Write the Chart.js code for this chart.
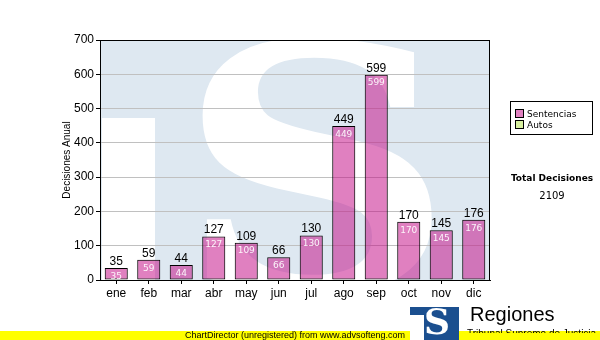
<!DOCTYPE html>
<html>
<head>
<meta charset="utf-8">
<script src="https://cdn.jsdelivr.net/npm/chart.js@4/dist/chart.umd.min.js"></script>
<style>
  html, body { margin: 0; padding: 0; background: #fff; }
  #wrap { position: relative; width: 600px; height: 340px; overflow: hidden; }
  #chart { position: absolute; left: 0; top: 0; }
  .legend { position: absolute; left: 510px; top: 101px; width: 81px; height: 32px;
            border: 1px solid #000; font: 9px "DejaVu Sans", sans-serif; color: #000; }
  .legend .item { position: absolute; left: 4px; height: 11px; line-height: 11px; white-space: nowrap; }
  .legend .sw { display: inline-block; width: 7px; height: 7px; border: 1px solid #000;
                vertical-align: -1px; margin-right: 3px; }
  .total { position: absolute; left: 500px; width: 104px; text-align: center;
           font: 9px "DejaVu Sans", sans-serif; color: #000; }
  .footer { position: absolute; left: 0; top: 331px; width: 600px; height: 9px; background: #ffff00; }
  .footer span { position: absolute; left: -6px; width: 602px; top: -2px; text-align: center;
                 font: 9px "Liberation Sans", Arial, sans-serif; line-height: 12px; color: #000; white-space: nowrap; }
  .subclip { position: absolute; left: 465px; top: 300px; width: 135px; height: 33px; overflow: hidden; }
  .sub { position: absolute; left: 2px; top: 28px; font: 10px "Liberation Sans", Arial, sans-serif; color: #000; white-space: nowrap; }
  .logo { position: absolute; left: 410px; top: 307px; width: 49px; height: 40px; background: #1b4f8f; overflow: hidden; }
  .logo .cut { position: absolute; left: 0; top: 8px; width: 14px; height: 40px; background: #fff; }
  .logo .s { position: absolute; left: 12px; top: -4px; width: 30px; text-align: center;
             font: bold 36px "DejaVu Serif", serif; color: #fff; line-height: 36px; }
  .brand { position: absolute; left: 470px; top: 303px; font: 20px "Liberation Sans", Arial, sans-serif; color: #000; }
</style>
</head>
<body>
<div id="wrap">
  <canvas id="chart" width="600" height="340"></canvas>
  <div class="legend" id="legend"></div>
  <div class="total" style="top:173px;font-weight:bold;" id="totalTitle"></div>
  <div class="total" style="top:190px;font-size:10px;" id="totalValue"></div>
  <div class="footer"><span>ChartDirector (unregistered) from www.advsofteng.com</span></div>
  <div class="subclip"><div class="sub">Tribunal Supremo de Justicia</div></div>
  <div class="logo"><div class="cut"></div><div class="s">S</div></div>
  <div class="brand">Regiones</div>
</div>
<script>
// decisiones por mes
const meses = ['ene', 'feb', 'mar', 'abr', 'may', 'jun', 'jul', 'ago', 'sep', 'oct', 'nov', 'dic'];
const sentencias = [35, 59, 44, 127, 109, 66, 130, 449, 599, 170, 145, 176];
const series = ['Sentencias', 'Autos'];
const coloresSerie = ['#e080c0', '#d8f0a0'];
const ejeY = { min: 0, max: 700, paso: 100 };

// leyenda y total
const legend = document.getElementById('legend');
series.forEach((nombre, i) => {
    const item = document.createElement('div');
    item.className = 'item';
    item.style.top = (7 + i * 11) + 'px';
    item.innerHTML = '<span class="sw" style="background:' + coloresSerie[i] + '"></span>' + nombre;
    legend.appendChild(item);
});
document.getElementById('totalTitle').textContent = 'Total Decisiones';
document.getElementById('totalValue').textContent = sentencias.reduce((a, b) => a + b, 0);

// fondo con el logo en marca de agua
const marcaAgua = {
    id: 'marcaAgua',
    beforeDraw(chart) {
        const { ctx, chartArea: a } = chart;
        ctx.save();
        ctx.beginPath();
        ctx.rect(a.left, a.top, a.right - a.left, a.bottom - a.top);
        ctx.clip();
        ctx.fillStyle = '#dee8f1';
        ctx.fillRect(a.left, a.top, a.right - a.left, a.bottom - a.top);
        ctx.fillStyle = '#fff';
        ctx.fillRect(a.left + 2, a.top + 78, 53, a.bottom - a.top);
        ctx.translate(316, 290);
        ctx.scale(1.13, 1);
        ctx.font = 'bold 340px "DejaVu Serif"';
        ctx.textAlign = 'center';
        ctx.textBaseline = 'alphabetic';
        ctx.fillText('S', 0, 0);
        ctx.restore();
    }
};

// marco, etiquetas de valor y título del eje
const extras = {
    id: 'extras',
    afterDatasetsDraw(chart) {
        const { ctx, chartArea: a } = chart;
        ctx.save();
        ctx.strokeStyle = '#000';
        ctx.lineWidth = 1;
        ctx.strokeRect(a.left + 0.5, a.top + 0.5, a.right - a.left - 1, a.bottom - a.top);
        ctx.textAlign = 'center';
        chart.getDatasetMeta(0).data.forEach((bar, i) => {
            ctx.fillStyle = '#000';
            ctx.font = '12px "Liberation Sans", Arial';
            ctx.textBaseline = 'alphabetic';
            ctx.fillText(sentencias[i], bar.x, bar.y - 3);
            ctx.fillStyle = 'rgba(255,255,255,0.92)';
            ctx.font = '9px "DejaVu Sans"';
            ctx.textBaseline = 'top';
            ctx.fillText(sentencias[i], bar.x, bar.y + 4);
        });
        ctx.translate(67, (a.top + a.bottom) / 2);
        ctx.rotate(-Math.PI / 2);
        ctx.fillStyle = '#000';
        ctx.font = '10px "Liberation Sans", Arial';
        ctx.textBaseline = 'middle';
        ctx.fillText('Decisiones Anual', 0, 0);
        ctx.restore();
    }
};

const fuente = { family: '"Liberation Sans", Arial, sans-serif', size: 12 };

const ctx = document.getElementById('chart').getContext('2d');
const chart = new Chart(ctx, {
    type: 'bar',
    data: {
        labels: meses,
        datasets: [{
            label: series[0],
            data: sentencias,
            backgroundColor: 'rgba(193, 1, 129, 0.5)',
            borderColor: '#000',
            borderWidth: 1,
            borderSkipped: false,
            categoryPercentage: 1,
            barPercentage: 0.71
        }]
    },
    options: {
        responsive: false,
        animation: false,
        layout: { padding: { left: 0, right: 110, top: 40, bottom: 0 } },
        plugins: { legend: { display: false }, tooltip: { enabled: false } },
        scales: {
            x: {
                afterFit: s => { s.height = 60; },
                grid: { drawOnChartArea: false, offset: false, tickLength: 4, tickColor: '#000' },
                border: { color: '#000' },
                ticks: { color: '#000', padding: 2, font: fuente }
            },
            y: {
                min: ejeY.min,
                max: ejeY.max,
                afterFit: s => { s.width = 100; },
                grid: { color: '#c0c0c0', tickLength: 4, tickColor: '#000' },
                border: { color: '#000' },
                ticks: { stepSize: ejeY.paso, color: '#000', padding: 2, font: fuente }
            }
        }
    },
    plugins: [marcaAgua, extras]
});
</script>
</body>
</html>
